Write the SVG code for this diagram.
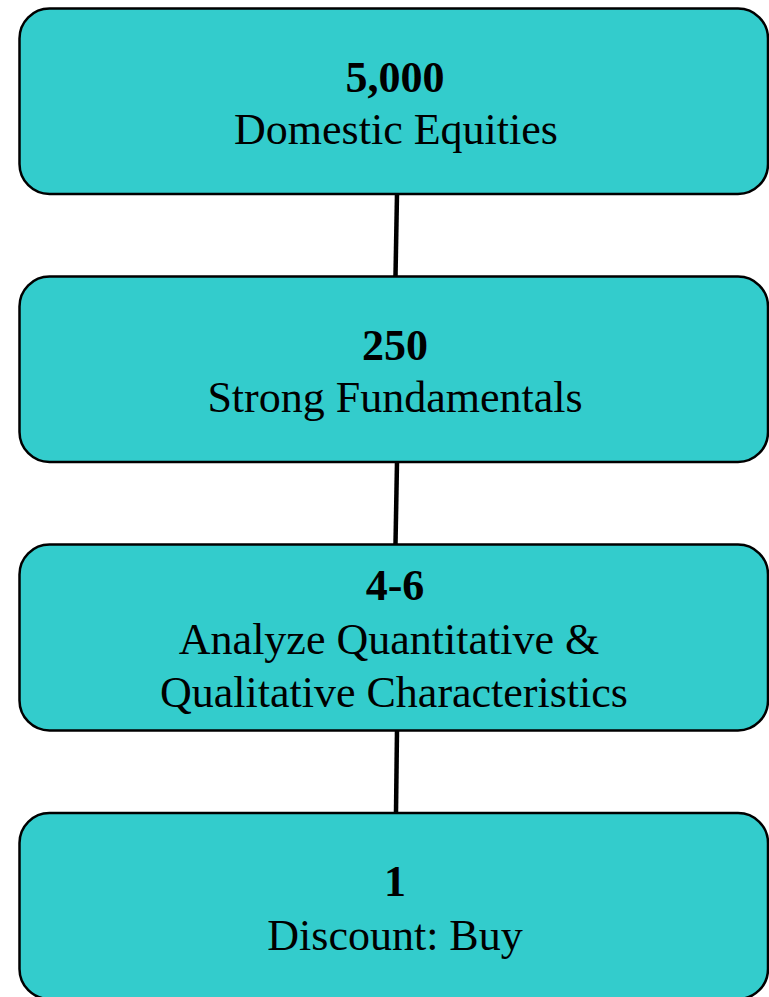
<svg xmlns="http://www.w3.org/2000/svg" width="769" height="997" viewBox="0 0 769 997">
  <style>
    .box { fill: #33CCCC; stroke: #000000; stroke-width: 2.5; }
    .link { stroke: #000000; stroke-width: 4.5; fill: none; }
    .num { font-family: "Liberation Serif", "Times New Roman", serif; font-size: 44px; font-weight: bold; fill: #000000; text-anchor: middle; }
    .lbl { font-family: "Liberation Serif", "Times New Roman", serif; font-size: 44px; fill: #000000; text-anchor: middle; }
  </style>
  <rect width="769" height="997" fill="#FFFFFF"/>

  <!-- connectors between stages -->
  <g id="connectors">
    <line class="link" x1="397" y1="194" x2="395.5" y2="276"/>
    <line class="link" x1="397" y1="462" x2="395.5" y2="544"/>
    <line class="link" x1="397" y1="730" x2="396" y2="812"/>
  </g>

  <!-- funnel stages -->
  <g id="stage-5000">
    <rect class="box" x="19.5" y="8.5" width="748.5" height="185.5" rx="30" ry="30"/>
    <text class="num" x="395" y="92">5,000</text>
    <text class="lbl" x="396" y="144">Domestic Equities</text>
  </g>

  <g id="stage-250">
    <rect class="box" x="19.5" y="276.5" width="748.5" height="185.5" rx="30" ry="30"/>
    <text class="num" x="395" y="360">250</text>
    <text class="lbl" x="395" y="412">Strong Fundamentals</text>
  </g>

  <g id="stage-4-6">
    <rect class="box" x="19.5" y="544.5" width="748.5" height="186" rx="30" ry="30"/>
    <text class="num" x="395" y="600">4-6</text>
    <text class="lbl" x="389" y="654">Analyze Quantitative &amp;</text>
    <text class="lbl" x="394" y="707">Qualitative Characteristics</text>
  </g>

  <g id="stage-1">
    <rect class="box" x="19.5" y="813" width="748.5" height="186" rx="30" ry="30"/>
    <text class="num" x="395" y="896">1</text>
    <text class="lbl" x="395" y="950">Discount: Buy</text>
  </g>
</svg>
